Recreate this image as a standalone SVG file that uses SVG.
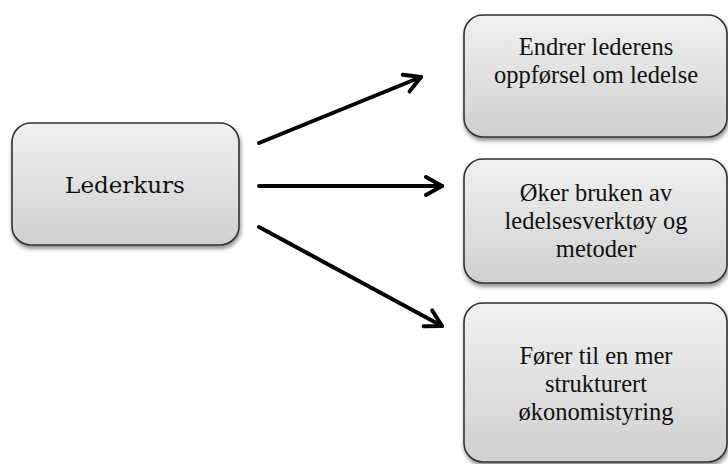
<svg xmlns="http://www.w3.org/2000/svg" width="728" height="464" viewBox="0 0 728 464">
<defs>
<linearGradient id="g" x1="0" y1="0" x2="0" y2="1">
<stop offset="0" stop-color="#f1f1f1"/>
<stop offset="1" stop-color="#d0d0d0"/>
</linearGradient>
<filter id="sh" x="-10%" y="-10%" width="120%" height="130%">
<feDropShadow dx="1" dy="3" stdDeviation="2" flood-color="#000" flood-opacity="0.45"/>
</filter>
<marker id="ah" markerUnits="userSpaceOnUse" markerWidth="40" markerHeight="40" viewBox="-20 -20 40 40" refX="0" refY="0" orient="auto" overflow="visible">
<path d="M-16,-9 L0,0 L-16,9" fill="none" stroke="#000" stroke-width="4" stroke-linecap="round" stroke-linejoin="round"/>
</marker>
</defs>
<style>
.box{fill:url(#g);stroke:#333;stroke-width:1.6;filter:url(#sh)}
.t{font-family:"Liberation Serif","Times New Roman",serif;font-size:24.5px;fill:#111;text-anchor:middle}
.t0{font-family:"DejaVu Serif",Cambria,serif;font-size:23px;fill:#111;text-anchor:middle}
.c{fill:none;stroke:#000;stroke-width:4;stroke-linecap:round;marker-end:url(#ah)}
</style>
<rect width="728" height="464" fill="#fff"/>
<g id="lederkurs">
<rect class="box" x="12" y="123" width="227" height="122" rx="19"/>
<text class="t0" x="125" y="193">Lederkurs</text>
</g>
<g id="endrer">
<rect class="box" x="464" y="15" width="263" height="122" rx="19"/>
<text class="t" x="596" y="55">Endrer lederens</text>
<text class="t" x="596" y="83">oppførsel om ledelse</text>
</g>
<g id="oker">
<rect class="box" x="464" y="159" width="263" height="124" rx="19"/>
<text class="t" x="596" y="201">Øker bruken av</text>
<text class="t" x="596" y="229">ledelsesverktøy og</text>
<text class="t" x="596" y="257">metoder</text>
</g>
<g id="forer">
<rect class="box" x="464" y="303" width="263" height="159" rx="19"/>
<text class="t" x="596" y="364">Fører til en mer</text>
<text class="t" x="596" y="392">strukturert</text>
<text class="t" x="596" y="420">økonomistyring</text>
</g>
<g id="connectors">
<line class="c" x1="259" y1="143" x2="421" y2="77"/>
<line class="c" x1="259" y1="186" x2="442" y2="186"/>
<line class="c" x1="259" y1="227" x2="442" y2="326"/>
</g>
</svg>
